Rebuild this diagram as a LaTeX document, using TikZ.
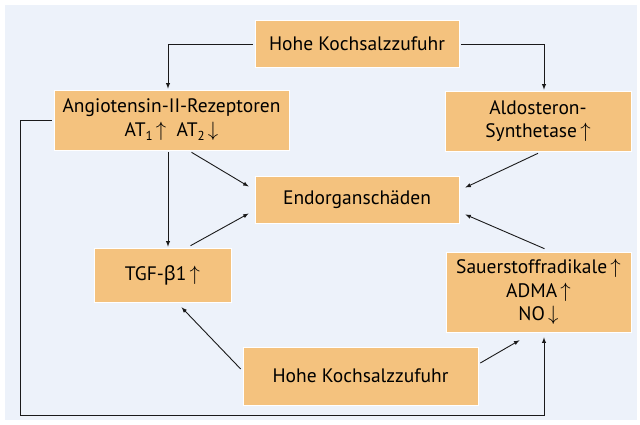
\documentclass[tikz,border=0pt]{standalone}
\usepackage{fontspec}
\setmainfont{PT Sans}
\newfontfamily\grkfont{Noto Sans}
\usetikzlibrary{calc}

\definecolor{boxfill}{HTML}{F4C27E}
\definecolor{panelbg}{HTML}{EDF2FA}
\definecolor{linecol}{HTML}{1A1A1A}

\newcommand{\lowsub}[1]{\raisebox{-0.45ex}{\fontsize{13}{13}\selectfont #1}}
\newcommand{\up}{\,$\uparrow$}
\newcommand{\down}{\,$\downarrow$}

\begin{document}
\begin{tikzpicture}[x=1pt, y=-1pt,
    box/.style={fill=boxfill, draw=white, line width=0.6pt, align=center, inner sep=0pt,
                font=\fontsize{19.5}{23.5}\selectfont},
    arr/.style={-latex, draw=linecol, line width=0.9pt}]
    \useasboundingbox (0,0) rectangle (640,425);
    \fill[panelbg] (5,5) rectangle (637,420);

	%boxes
    \node[box, minimum width=204pt, minimum height=47pt] (top) at (357,44) {Hohe Kochsalzzufuhr};
    \node[box, minimum width=235pt, minimum height=60pt] (ang) at (171.5,120) {Angiotensin-II-Rezeptoren\\AT\lowsub{1}\up\ \ AT\lowsub{2}\down};
    \node[box, minimum width=186pt, minimum height=60pt] (aldo) at (538,121) {Aldosteron-\\Synthetase\up};
    \node[box, minimum width=204pt, minimum height=47pt] (endo) at (357,199.5) {Endorganschäden};
    \node[box, minimum width=137pt, minimum height=54pt] (tgf) at (162.5,275) {TGF-{\grkfont β}1\up};
    \node[box, minimum width=185pt, minimum height=80pt] (rad) at (538.5,292) {Sauerstoffradikale\up\\ADMA\up\\NO\down};
    \node[box, minimum width=235pt, minimum height=58pt] (bot) at (360.5,376) {Hohe Kochsalzzufuhr};

    \coordinate (vline) at (168,0);
    \coordinate (rline) at (544,0);
    \coordinate (fb) at (20,415);

	%top
    \draw[arr] ([xshift=-2pt]top.west) -| ([yshift=1pt]ang.north -| vline);
    \draw[arr] ([xshift=2pt]top.east) -| ([yshift=1pt]aldo.north -| rline);
    \draw[arr] ([yshift=-2pt]ang.south -| vline) -- ([yshift=1pt]tgf.north -| vline);

	%into Endorganschaeden
    \draw[arr] ([xshift=20pt,yshift=-2pt]ang.south) -- ([xshift=-6pt,yshift=13pt]endo.west);
    \draw[arr] ([yshift=-2pt]aldo.south) -- ([xshift=6pt,yshift=12pt]endo.east);
    \draw[arr] ([xshift=28pt,yshift=2pt]tgf.north) -- ([xshift=-6pt,yshift=-14pt]endo.west);
    \draw[arr] ([xshift=6pt,yshift=3pt]rad.north) -- ([xshift=6pt,yshift=-15pt]endo.east);

	%bottom
    \draw[arr] ([xshift=-2pt,yshift=7pt]bot.west) -- ([xshift=19pt,yshift=-5pt]tgf.south);
    \draw[arr] ([xshift=2pt,yshift=13pt]bot.east) -- ([xshift=-19pt,yshift=-8pt]rad.south);

	%feedback
    \draw[arr] ([xshift=-2pt]ang.west) -| (fb) -| ([yshift=-5pt]rad.south -| rline);

\end{tikzpicture}
\end{document}
